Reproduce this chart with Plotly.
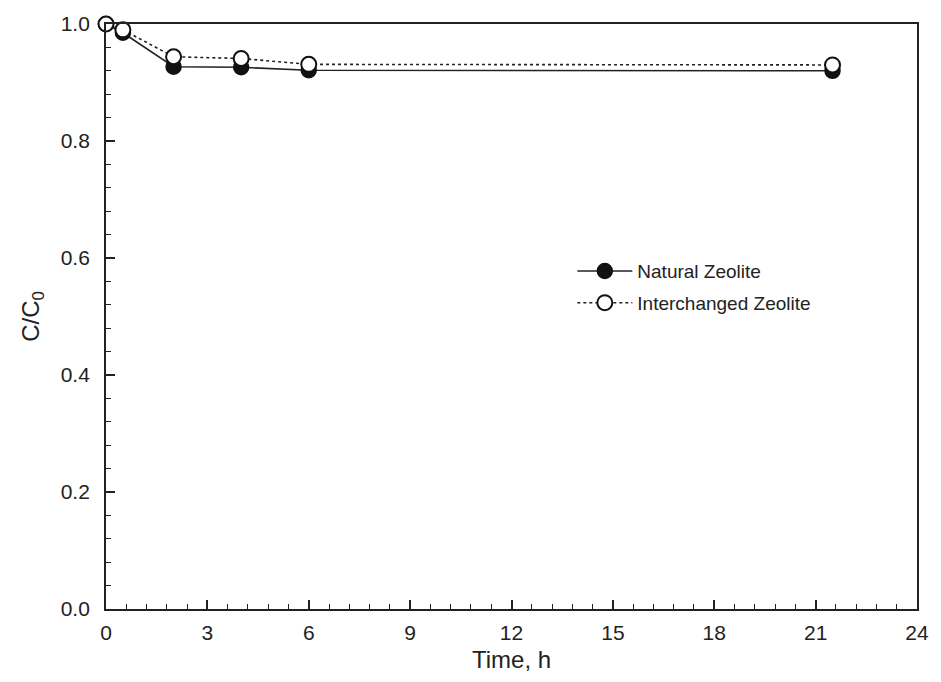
import plotly.graph_objects as go

time_h = [0, 0.5, 2, 4, 6, 21.5]
natural = [1.0, 0.985, 0.927, 0.926, 0.921, 0.920]
interchanged = [1.0, 0.99, 0.944, 0.941, 0.931, 0.930]
x_ticks = [0, 3, 6, 9, 12, 15, 18, 21, 24]
y_ticks = [0.0, 0.2, 0.4, 0.6, 0.8, 1.0]

fig = go.Figure()
fig.add_trace(go.Scatter(
    x=time_h, y=natural, name="Natural Zeolite", mode="lines+markers",
    legendgroup="a",
    line=dict(color="#222222", width=1.6),
    marker=dict(symbol="circle", size=15, color="#111111", line=dict(color="#111111", width=1.5)),
    cliponaxis=False,
))
fig.add_trace(go.Scatter(
    x=time_h, y=interchanged, name="Interchanged Zeolite", mode="lines+markers",
    legendgroup="b",
    line=dict(color="#222222", width=1.6, dash="dot"),
    marker=dict(symbol="circle", size=15, color="white", line=dict(color="#111111", width=2)),
    cliponaxis=False,
))

fig.update_layout(
    width=941, height=682,
    margin=dict(l=106, r=18, t=24, b=73),
    paper_bgcolor="white", plot_bgcolor="white",
    font=dict(family="Liberation Sans, Arial, sans-serif", color="#222222", size=20),
    showlegend=True,
    legend=dict(x=0.575, y=0.61, xanchor="left", yanchor="top",
                font=dict(size=19, color="#222222"), bgcolor="rgba(0,0,0,0)",
                itemwidth=55, tracegroupgap=4),
    xaxis=dict(
        range=[0, 24], tickvals=x_ticks, ticktext=[str(v) for v in x_ticks],
        ticks="inside", ticklen=9, tickwidth=1.5, tickcolor="#222222",
        showline=True, linecolor="#222222", linewidth=1.8, mirror=True,
        showgrid=False, zeroline=False,
        minor=dict(dtick=0.6, tick0=0, ticks="inside", ticklen=5, tickwidth=1.3, tickcolor="#222222", showgrid=False),
        title=dict(text="Time, h", font=dict(size=24), standoff=8),
        tickfont=dict(size=21),
        ticklabelstandoff=4,
    ),
    yaxis=dict(
        range=[0, 1.0], tickvals=y_ticks, ticktext=[f"{v:.1f}" for v in y_ticks],
        ticks="inside", ticklen=9, tickwidth=1.5, tickcolor="#222222",
        showline=True, linecolor="#222222", linewidth=1.8, mirror=True,
        showgrid=False, zeroline=False,
        minor=dict(dtick=0.04, tick0=0, ticks="inside", ticklen=5, tickwidth=1.3, tickcolor="#222222", showgrid=False),
        title=dict(text="C/C<sub>0</sub>", font=dict(size=24), standoff=14),
        tickfont=dict(size=21),
        ticklabelstandoff=10,
    ),
)

fig.write_html("out.html")
